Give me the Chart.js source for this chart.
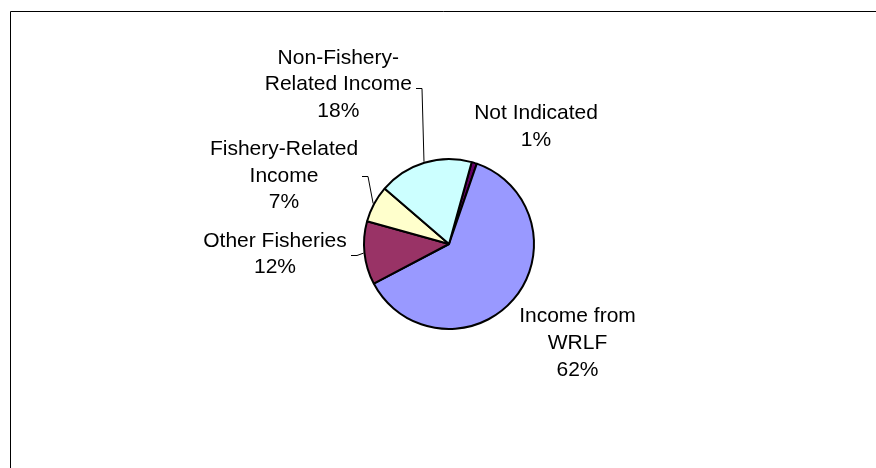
<!DOCTYPE html>
<html>
<head>
<meta charset="utf-8">
<title>Sources of income</title>
<script src="https://cdn.jsdelivr.net/npm/chart.js@4.4.0/dist/chart.umd.min.js"></script>
<style>
  html, body { margin: 0; padding: 0; background: #fff; }
  canvas { display: block; }
</style>
</head>
<body>
<canvas id="incomeChart" width="876" height="468"></canvas>
<script>
var categories = ['Not Indicated', 'Income from WRLF', 'Other Fisheries', 'Fishery-Related Income', 'Non-Fishery-Related Income'];
var labelLines = [['Not Indicated'], ['Income from', 'WRLF'], ['Other Fisheries'], ['Fishery-Related', 'Income'], ['Non-Fishery-', 'Related Income']];
var shares = [1, 62, 12, 7, 18];
var sliceColors = ['#660066', '#9999FF', '#993366', '#FFFFCC', '#CCFFFF'];

// white page with the chart-area frame (runs off to the right and bottom)
var frame = {
  id: 'frame',
  beforeDraw: function(chart) {
    var ctx = chart.ctx
    ctx.save()
    ctx.fillStyle = '#fff'
    ctx.fillRect(0, 0, chart.width, chart.height)
    ctx.strokeStyle = '#000'
    ctx.lineWidth = 1
    ctx.beginPath()
    ctx.moveTo(10.5, chart.height)
    ctx.lineTo(10.5, 11.5)
    ctx.lineTo(chart.width, 11.5)
    ctx.stroke()
    ctx.restore()
  }
}

// category name + percentage next to each slice, with elbow leaders where asked
var sliceLabels = {
  id: 'sliceLabels',
  afterDatasetsDraw: function(chart, args, opts) {
    var ctx = chart.ctx
    var meta = chart.getDatasetMeta(0)
    ctx.save()
    ctx.font = opts.font
    ctx.fillStyle = '#000'
    ctx.textAlign = 'center'
    ctx.textBaseline = 'alphabetic'
    meta.data.forEach(function(arc, i) {
      var p = arc.getProps(['x', 'y', 'startAngle', 'endAngle', 'outerRadius'], true)
      var spot = opts.spots[i]
      var lines = labelLines[i].concat([shares[i] + '%'])
      var cx = p.x + spot.dx
      var top = p.y + spot.dy
      var widest = 0
      lines.forEach(function(t, k) {
        ctx.fillText(t, cx, top + k * opts.lineHeight)
        widest = Math.max(widest, ctx.measureText(t).width)
      })
      if (spot.leader) {
        var mid = (p.startAngle + p.endAngle) / 2
        var ex = p.x + Math.cos(mid) * (p.outerRadius + 1)
        var ey = p.y + Math.sin(mid) * (p.outerRadius + 1)
        var sx = cx + widest / 2 + 4
        var sy = top + ((lines.length - 1) * opts.lineHeight - 11) / 2 + (spot.ty || 0)
        ctx.strokeStyle = '#000'
        ctx.lineWidth = 1
        ctx.beginPath()
        ctx.moveTo(Math.round(sx), Math.round(sy) + 0.5)
        ctx.lineTo(Math.round(sx) + 6, Math.round(sy) + 0.5)
        ctx.lineTo(ex, ey)
        ctx.stroke()
      }
    })
    ctx.restore()
  }
}

new Chart(document.getElementById('incomeChart'), {
  type: 'pie',
  data: {
    labels: categories,
    datasets: [{
      data: shares,
      backgroundColor: sliceColors,
      borderColor: '#000',
      borderWidth: 2
    }]
  },
  options: {
    responsive: false,
    animation: false,
    rotation: 15.5,
    layout: { padding: { left: 363, right: 341, top: 158, bottom: 138 } },
    plugins: {
      legend: { display: false },
      tooltip: { enabled: false },
      sliceLabels: {
        font: '21px "Liberation Sans", Arial, sans-serif',
        lineHeight: 26.7,
        spots: [
          { dx: 87, dy: -125, leader: false },
          { dx: 128.5, dy: 78.3, leader: false },
          { dx: -174, dy: 2.7, leader: true },
          { dx: -165, dy: -89, leader: true },
          { dx: -110.7, dy: -180.3, leader: true, ty: 3 }
        ]
      }
    }
  },
  plugins: [frame, sliceLabels]
})
</script>
</body>
</html>
